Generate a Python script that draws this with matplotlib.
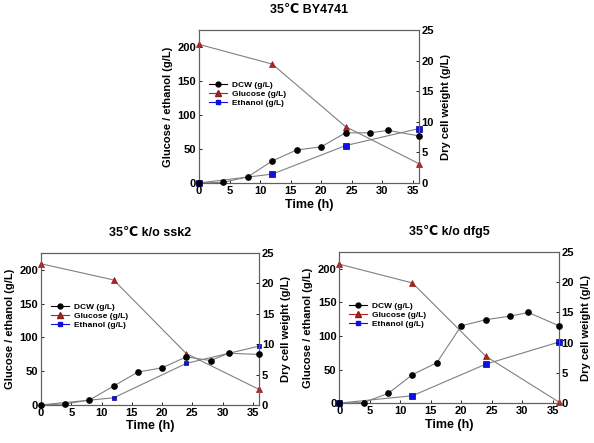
import matplotlib
matplotlib.use("Agg")
from matplotlib import pyplot as plt
from matplotlib.lines import Line2D

plt.rcParams['font.family'] = ['Liberation Sans', 'DejaVu Sans']
plt.rcParams['font.weight'] = 'bold'

# sampling times (h)
t_dcw = [0, 4, 8, 12, 16, 20, 24, 28, 31, 36]
t_sub = [0, 12, 24, 36]

# 35C BY4741
by_dcw = [0, 0.1, 1.0, 3.6, 5.4, 5.9, 8.2, 8.2, 8.6, 7.7]
by_glc = [204, 175, 83, 28.5]
by_eth = [0, 13, 55, 80]

# 35C k/o ssk2
ssk_dcw = [0, 0.15, 0.8, 3.1, 5.4, 6.1, 7.9, 7.3, 8.5, 8.3]
ssk_glc = [209, 185, 76, 23]
ssk_eth = [0, 10.5, 61.5, 87]

# 35C k/o dfg5
dfg_dcw = [0, 0.1, 1.6, 4.7, 6.7, 12.8, 13.8, 14.4, 15.0, 12.8]
dfg_glc = [207, 179, 70, 1.5]
dfg_eth = [0, 11, 58, 91]

titles = ["35\u2103 BY4741", "35\u2103 k/o ssk2", "35\u2103 k/o dfg5"]

RED = '#b22222'
BLUE = '#1010e0'
LINE = '#808080'


def draw_panel(fig, rect, title, dcw, glc, eth, eth_ms=4):
    ax = fig.add_axes(rect)
    ax2 = ax.twinx()
    ax.plot(t_sub, glc, '-', color=LINE, lw=0.8, marker='^', ms=5,
            mfc=RED, mec='#8b1a1a', mew=0.5, zorder=3, clip_on=False)
    ax.plot(t_sub, eth, '-', color=LINE, lw=0.8, marker='s', ms=eth_ms,
            mfc=BLUE, mec='#00008b', mew=0.5, zorder=3, clip_on=False)
    ax2.plot(t_dcw, dcw, '-', color=LINE, lw=0.8, marker='o', ms=3.8,
             mfc='black', mec='black', zorder=3, clip_on=False)

    ax.set_xlim(0, 36)
    ax.set_ylim(0, 225)
    ax2.set_ylim(0, 25)
    ax.set_xticks(range(0, 36, 5))
    ax.set_yticks([0, 50, 100, 150, 200])
    ax2.set_yticks([0, 5, 10, 15, 20, 25])
    for a in (ax, ax2):
        a.tick_params(direction='in', length=2, width=0.6, labelsize=8, pad=2)
        for s in a.spines.values():
            s.set_color('#606060')
            s.set_linewidth(0.8)

    ax.set_xlabel('Time (h)', fontsize=9, fontweight='bold', labelpad=2)
    ax.set_ylabel('Glucose / ethanol (g/L)', fontsize=8, fontweight='bold', labelpad=3)
    ax2.set_ylabel('Dry cell weight (g/L)', fontsize=8, fontweight='bold', labelpad=5)
    ax.set_title(title, fontsize=9, fontweight='bold', pad=12)

    handles = [
        Line2D([], [], color='black', lw=0.8, marker='o', ms=3.5, mfc='black'),
        Line2D([], [], color=RED, lw=0.8, marker='^', ms=4, mfc=RED, mec='#8b1a1a'),
        Line2D([], [], color=BLUE, lw=0.8, marker='s', ms=3.5, mfc=BLUE),
    ]
    ax.legend(handles, ['DCW (g/L)', 'Glucose (g/L)', 'Ethanol (g/L)'],
              loc='upper left', bbox_to_anchor=(0.03, 0.69), frameon=False,
              fontsize=6, handlelength=2.2, handletextpad=0.6,
              labelspacing=0.15, borderaxespad=0)
    return ax


fig = plt.figure(figsize=(5.94, 4.43), dpi=100)
draw_panel(fig, [0.335, 0.587, 0.370, 0.345], titles[0], by_dcw, by_glc, by_eth)
draw_panel(fig, [0.069, 0.086, 0.367, 0.343], titles[1], ssk_dcw, ssk_glc, ssk_eth, eth_ms=2.8)
draw_panel(fig, [0.571, 0.090, 0.370, 0.341], titles[2], dfg_dcw, dfg_glc, dfg_eth)

fig.savefig('out.png', dpi=100)
